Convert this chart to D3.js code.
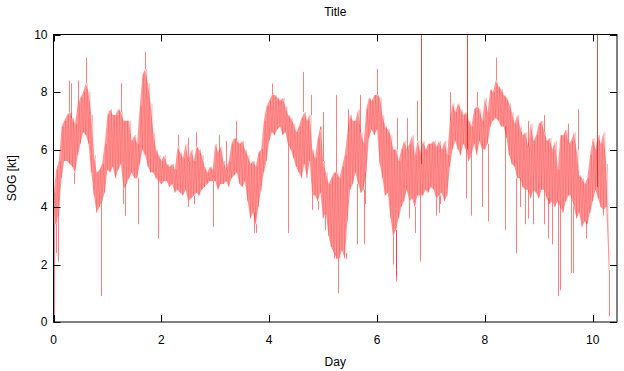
<!DOCTYPE html>
<html>
<head>
<meta charset="utf-8">
<script src="https://cdn.jsdelivr.net/npm/d3@7"></script>
<style>
  body { margin: 0; background: #fff; }
  text { font-family: "Liberation Sans", Arial, sans-serif; font-size: 12px; fill: #000; }
</style>
</head>
<body>
<div id="chart"></div>
<script>
// sampling step of the band (days)
var step = 0.05;

// dense part of the SOG [kt] trace: lower / upper edge for each step
var sogLow = [
  3.4, 3.4, 3.8, 5.0, 5.6, 5.6, 5.5, 5.4, 5.2, 5.8,
  6.2, 6.6, 6.5, 6.2, 5.2, 4.4, 3.8, 4.0, 4.2, 4.5,
  5.3, 5.2, 5.4, 5.0, 5.3, 5.5, 4.6, 4.8, 5.0, 5.2,
  5.0, 5.0, 5.5, 6.0, 5.8, 5.4, 5.2, 5.2, 5.0, 4.9,
  4.8, 4.9, 4.9, 4.7, 4.8, 4.5, 4.6, 4.5, 4.4, 4.6,
  4.2, 4.3, 4.4, 4.5, 4.4, 4.6, 4.7, 4.8, 4.9, 4.9,
  4.9, 4.6, 4.8, 4.8, 4.9, 4.7, 5.0, 5.1, 5.2, 4.8,
  4.7, 4.9, 4.2, 3.6, 3.8, 3.4, 4.0, 4.6, 5.2, 5.6,
  6.3, 6.6, 6.5, 6.7, 6.8, 6.5, 6.6, 6.2, 6.0, 5.7,
  5.4, 5.2, 5.0, 5.5, 5.0, 5.6, 4.4, 4.4, 4.2, 4.5,
  3.6, 3.8, 3.0, 2.6, 2.4, 2.2, 2.2, 2.5, 2.2, 3.5,
  4.6, 4.8, 5.2, 4.8, 4.5, 4.6, 5.2, 6.4, 6.7, 6.5,
  6.7, 5.5, 5.0, 4.4, 4.5, 3.6, 3.0, 3.2, 3.6, 4.0,
  4.2, 4.6, 4.2, 4.3, 4.0, 4.4, 4.4, 4.4, 4.6, 4.5,
  4.7, 4.6, 4.3, 4.4, 4.5, 4.2, 4.4, 5.4, 6.0, 6.3,
  6.0, 5.8, 6.2, 6.0, 5.6, 5.8, 6.2, 5.8, 6.3, 6.0,
  6.0, 6.2, 6.8, 7.0, 7.1, 7.0, 6.8, 6.8, 6.4, 5.8,
  5.5, 5.4, 5.0, 5.0, 4.7, 4.6, 4.6, 4.3, 4.6, 4.5,
  4.3, 4.6, 4.6, 4.3, 4.1, 4.2, 4.0, 4.2, 4.0, 3.8,
  4.2, 4.4, 4.4, 4.0, 3.6, 3.8, 3.3, 3.5, 3.4, 3.8,
  4.2, 4.6, 4.3, 4.0, 3.9, 4.0, 1.8
];
var sogHigh = [
  4.5, 5.3, 5.6, 6.8, 7.0, 7.2, 7.3, 7.1, 6.9, 7.6,
  7.8, 8.0, 8.3, 8.0, 7.2, 5.8, 5.2, 5.3, 5.5, 6.2,
  7.2, 7.4, 7.2, 7.2, 7.4, 7.3, 7.0, 7.0, 7.0, 6.3,
  6.5, 6.2, 7.5, 8.6, 8.8, 8.3, 7.6, 6.6, 6.0, 5.8,
  5.6, 5.8, 5.5, 5.4, 5.5, 5.3, 6.1, 5.9, 5.7, 6.2,
  5.6, 6.0, 5.6, 6.1, 6.0, 5.8, 5.4, 5.2, 5.4, 5.3,
  6.2, 5.9, 6.1, 5.6, 5.3, 5.6, 6.2, 6.4, 6.3, 6.2,
  6.3, 6.0, 5.8, 5.5, 5.6, 5.4, 5.9, 6.0, 7.0, 7.5,
  7.7, 7.9, 7.9, 7.8, 7.7, 7.8, 7.5, 7.2, 7.1, 6.9,
  6.6, 6.8, 7.1, 7.3, 7.0, 7.2, 6.0, 5.7, 6.4, 6.8,
  5.6, 5.2, 4.8, 5.0, 5.2, 5.2, 5.0, 5.4, 5.8, 6.6,
  7.2, 7.0, 7.0, 7.4, 6.6, 6.2, 7.4, 7.8, 7.7, 7.9,
  7.9, 7.8, 7.2, 6.8, 6.7, 6.5, 6.0, 6.0, 5.6, 6.0,
  6.3, 6.0, 6.2, 6.5, 5.8, 6.3, 5.9, 6.3, 6.0, 6.2,
  6.2, 6.3, 6.1, 6.3, 6.0, 6.3, 5.8, 7.0, 7.6, 7.3,
  7.6, 7.4, 7.2, 7.3, 7.0, 6.8, 7.4, 7.5, 7.4, 7.0,
  7.8, 7.3, 8.1, 8.0, 8.4, 8.2, 8.1, 7.9, 7.8, 7.6,
  7.3, 6.9, 7.2, 6.8, 6.5, 6.6, 6.1, 6.9, 6.3, 6.5,
  6.9, 7.0, 6.6, 6.3, 6.4, 6.0, 6.3, 5.3, 6.5, 6.5,
  6.7, 6.2, 6.3, 6.6, 6.0, 5.1, 5.0, 4.8, 5.0, 5.8,
  6.4, 6.0, 6.5, 6.2, 6.6, 5.5, 2.5
];

// single readings far below / above the dense band: [day, SOG]
var dips = [
  [0.0, 0.0], [0.05, 2.4], [0.09, 2.1], [0.38, 4.8], [0.88, 0.9], [1.28, 4.1],
  [1.33, 3.7], [1.56, 3.4], [1.94, 2.9], [2.5, 4.0], [2.6, 4.1], [2.96, 3.3],
  [3.72, 3.1], [3.75, 3.1], [4.35, 3.1], [4.8, 3.9], [4.9, 3.9], [5.04, 3.2],
  [5.2, 2.2], [5.27, 1.0], [5.42, 2.4], [5.63, 2.7], [5.76, 2.7], [5.78, 4.1],
  [6.3, 2.0], [6.35, 1.6], [6.36, 1.4], [6.6, 3.6], [6.7, 3.1], [6.8, 2.1],
  [7.1, 3.7], [7.15, 3.8], [7.17, 4.1], [7.65, 4.3], [7.75, 3.7], [7.95, 4.0],
  [8.05, 3.5], [8.37, 3.2], [8.58, 2.4], [8.65, 4.0], [8.74, 3.4], [8.8, 3.6],
  [8.9, 3.4], [9.1, 3.4], [9.17, 2.9], [9.25, 2.7], [9.36, 0.9], [9.39, 1.1],
  [9.6, 1.7], [9.63, 1.7], [9.87, 2.9], [10.19, 3.7], [10.3, 0.2]
];
var peaks = [
  [0.28, 8.4], [0.33, 8.3], [0.46, 8.4], [0.6, 9.2], [1.25, 8.3], [1.7, 9.4],
  [2.3, 6.5], [2.5, 6.4], [2.65, 6.6], [3.06, 6.5], [3.2, 6.3], [3.39, 7.0],
  [4.05, 8.3], [4.63, 8.7], [4.77, 7.9], [4.95, 6.7], [5.0, 7.3], [5.24, 7.9],
  [5.46, 7.4], [5.69, 7.9], [6.0, 8.8], [6.37, 7.1], [6.56, 7.1], [6.74, 7.7],
  [7.35, 8.0], [7.85, 8.0], [8.2, 9.2], [8.8, 7.0], [8.98, 6.9], [9.1, 7.2],
  [9.54, 6.9], [9.72, 7.4]
];
// readings that shoot off the top of the plot: [day, from, to]
var spikes = [[6.81, 5.5, 10.5], [7.67, 6.0, 10.5], [10.07, 4.7, 10.5]];

var xTicks = [0, 2, 4, 6, 8, 10];
var yTicks = [0, 2, 4, 6, 8, 10];

var W = 624, H = 371;
var margin = {top: 34.5, right: 7, bottom: 49, left: 53.5};
var xMax = 10.45;

var svg = d3.select("#chart").append("svg")
    .attr("width", W)
    .attr("height", H);

var x = d3.scaleLinear().domain([0, xMax]).range([margin.left, W - margin.right]);
var y = d3.scaleLinear().domain([0, 10]).range([H - margin.bottom, margin.top]);

svg.append("clipPath").attr("id", "clip")
  .append("rect")
    .attr("x", x(0)).attr("y", y(10))
    .attr("width", x(xMax) - x(0)).attr("height", y(0) - y(10));

var plot = svg.append("g").attr("clip-path", "url(#clip)");

var band = sogLow.map(function(lo, i) { return {t: i * step, lo: lo, hi: sogHigh[i]}; });

// pale band
plot.append("path")
    .datum(band)
    .attr("d", d3.area()
        .x(function(d) { return x(d.t); })
        .y0(function(d) { return y(d.lo); })
        .y1(function(d) { return y(d.hi); }))
    .style("fill", "rgb(255,0,0)")
    .style("fill-opacity", 0.4);

// zig-zag trace across the band
var pts = [];
band.forEach(function(d) {
  pts.push([d.t, d.lo]);
  pts.push([d.t + step / 2, d.hi]);
});
plot.append("path")
    .datum(pts)
    .attr("d", d3.line()
        .x(function(d) { return x(d[0]); })
        .y(function(d) { return y(d[1]); }))
    .style("fill", "none")
    .style("stroke", "rgb(255,0,0)")
    .style("stroke-opacity", 0.22)
    .style("stroke-width", 0.8);

// nearest band edge for an isolated reading
function edge(day, key) {
  var i = Math.max(0, Math.min(band.length - 1, Math.round(day / step)));
  return band[i][key];
}

function vline(sel, data, from, to, op) {
  sel.selectAll(null)
    .data(data)
    .enter()
    .append("path")
      .attr("d", function(d) {
        var px = Math.round(x(d[0])) + 0.5;
        return "M" + px + "," + y(from(d)) + "V" + y(to(d));
      })
      .style("fill", "none")
      .style("stroke", "rgb(255,0,0)")
      .style("stroke-opacity", op)
      .style("stroke-width", 1);
}

vline(plot, dips, function(d) { return edge(d[0], "lo"); }, function(d) { return d[1]; }, 0.5);
vline(plot, peaks, function(d) { return edge(d[0], "hi"); }, function(d) { return d[1]; }, 0.5);
vline(plot, spikes, function(d) { return d[1]; }, function(d) { return d[2]; }, 0.75);

// frame
svg.append("rect")
    .attr("x", x(0)).attr("y", y(10))
    .attr("width", x(xMax) - x(0)).attr("height", y(0) - y(10))
    .style("fill", "none")
    .style("stroke", "#000")
    .style("stroke-width", 1);

// inward ticks, mirrored like gnuplot
var tl = 7;
svg.selectAll(".xt")
  .data(xTicks)
  .enter()
  .append("path")
    .attr("d", function(d) {
      var px = Math.round(x(d)) + 0.5;
      return "M" + px + "," + y(0) + "v" + (-tl) + "M" + px + "," + y(10) + "v" + tl;
    })
    .style("stroke", "#000");

svg.selectAll(".yt")
  .data(yTicks)
  .enter()
  .append("path")
    .attr("d", function(d) {
      var py = Math.round(y(d)) + 0.5;
      return "M" + x(0) + "," + py + "h" + tl + "M" + x(xMax) + "," + py + "h" + (-tl);
    })
    .style("stroke", "#000");

svg.selectAll(".xl")
  .data(xTicks)
  .enter()
  .append("text")
    .attr("x", function(d) { return x(d); })
    .attr("y", y(0) + 22)
    .attr("text-anchor", "middle")
    .text(function(d) { return d; });

svg.selectAll(".yl")
  .data(yTicks)
  .enter()
  .append("text")
    .attr("x", x(0) - 6)
    .attr("y", function(d) { return y(d) + 4; })
    .attr("text-anchor", "end")
    .text(function(d) { return d; });

svg.append("text")
    .attr("x", (x(0) + x(xMax)) / 2)
    .attr("y", 16)
    .attr("text-anchor", "middle")
    .text("Title");

svg.append("text")
    .attr("x", (x(0) + x(xMax)) / 2)
    .attr("y", 366)
    .attr("text-anchor", "middle")
    .text("Day");

svg.append("text")
    .attr("transform", "translate(16," + ((y(0) + y(10)) / 2) + ") rotate(-90)")
    .attr("text-anchor", "middle")
    .text("SOG [kt]");
</script>
</body>
</html>
